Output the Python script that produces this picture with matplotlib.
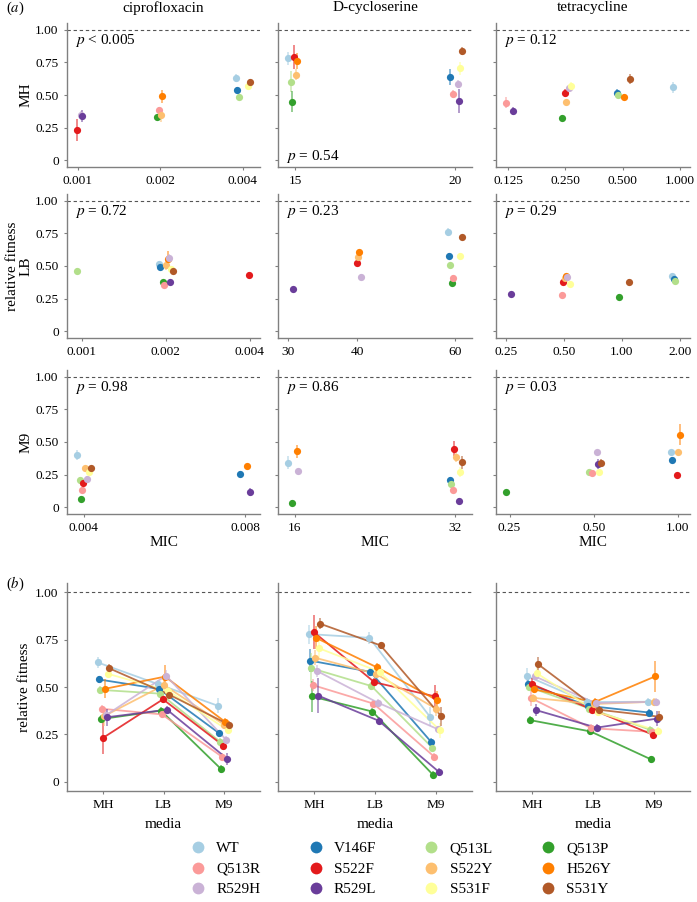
import numpy as np
import matplotlib.pyplot as plt
from matplotlib.lines import Line2D

plt.rcParams['font.family'] = 'Liberation Serif'
plt.rcParams['mathtext.fontset'] = 'stix'

strains = ['WT', 'V146F', 'Q513L', 'Q513P', 'Q513R', 'S522F',
           'S522Y', 'H526Y', 'R529H', 'R529L', 'S531F', 'S531Y']
colours = ['#a6cee3', '#1f78b4', '#b2df8a', '#33a02c', '#fb9a99', '#e31a1c',
           '#fdbf6f', '#ff7f00', '#cab2d6', '#6a3d9a', '#ffff99', '#b15928']
media = ['MH', 'LB', 'M9']
drugs = ['ciprofloxacin', 'D-cycloserine', 'tetracycline']

# ciprofloxacin (strain order as above)
cip_mh_mic = [0.004, 0.004, 0.004, 0.002, 0.002, 0.001, 0.002, 0.002, 0.001, 0.001, 0.004, 0.004]
cip_mh_fit = [0.63, 0.54, 0.485, 0.33, 0.385, 0.23, 0.345, 0.49, 0.35, 0.34, 0.57, 0.60]
cip_mh_err = [0.03, 0.02, 0.02, 0.02, 0.02, 0.085, 0.05, 0.05, 0.03, 0.045, 0.02, 0.02]
cip_lb_mic = [0.002, 0.002, 0.001, 0.002, 0.002, 0.004, 0.002, 0.002, 0.002, 0.002, 0.002, 0.002]
cip_lb_fit = [0.515, 0.49, 0.465, 0.375, 0.355, 0.435, 0.51, 0.555, 0.56, 0.38, 0.48, 0.46]
cip_lb_err = [0.02, 0.02, 0.02, 0.02, 0.02, 0.02, 0.04, 0.06, 0.03, 0.02, 0.02, 0.02]
cip_m9_mic = [0.004, 0.008, 0.004, 0.004, 0.004, 0.004, 0.004, 0.008, 0.004, 0.008, 0.004, 0.004]
cip_m9_fit = [0.40, 0.255, 0.21, 0.065, 0.13, 0.19, 0.30, 0.315, 0.22, 0.12, 0.27, 0.30]
cip_m9_err = [0.04, 0.02, 0.02, 0.02, 0.02, 0.02, 0.02, 0.02, 0.02, 0.03, 0.02, 0.02]

# D-cycloserine
dcs_mh_mic = [15, 20, 15, 15, 20, 15, 15, 15, 20, 20, 20, 20]
dcs_mh_fit = [0.78, 0.64, 0.60, 0.45, 0.51, 0.79, 0.655, 0.76, 0.585, 0.455, 0.705, 0.835]
dcs_mh_err = [0.05, 0.06, 0.08, 0.08, 0.03, 0.09, 0.04, 0.06, 0.03, 0.09, 0.05, 0.03]
dcs_lb_mic = [60, 60, 60, 60, 60, 40, 40, 40, 40, 30, 60, 60]
dcs_lb_fit = [0.76, 0.58, 0.505, 0.37, 0.412, 0.525, 0.57, 0.605, 0.418, 0.322, 0.58, 0.72]
dcs_lb_err = [0.03, 0.02, 0.02, 0.02, 0.02, 0.02, 0.02, 0.02, 0.02, 0.02, 0.02, 0.02]
dcs_m9_mic = [16, 32, 32, 16, 32, 32, 32, 16, 16, 32, 32, 32]
dcs_m9_fit = [0.342, 0.21, 0.18, 0.035, 0.132, 0.45, 0.385, 0.43, 0.276, 0.05, 0.27, 0.346]
dcs_m9_err = [0.05, 0.02, 0.02, 0.02, 0.02, 0.06, 0.04, 0.05, 0.02, 0.02, 0.04, 0.05]

# tetracycline
tet_mh_mic = [1.0, 0.5, 0.5, 0.25, 0.125, 0.25, 0.25, 0.5, 0.25, 0.125, 0.25, 0.5]
tet_mh_fit = [0.558, 0.516, 0.50, 0.325, 0.442, 0.515, 0.443, 0.488, 0.556, 0.378, 0.572, 0.621]
tet_mh_err = [0.04, 0.03, 0.02, 0.02, 0.04, 0.03, 0.02, 0.02, 0.02, 0.03, 0.03, 0.04]
tet_lb_mic = [2.0, 2.0, 2.0, 1.0, 0.5, 0.5, 0.5, 0.5, 0.5, 0.25, 0.5, 1.0]
tet_lb_fit = [0.42, 0.40, 0.386, 0.265, 0.282, 0.38, 0.41, 0.42, 0.415, 0.285, 0.366, 0.38]
tet_lb_err = [0.02, 0.02, 0.02, 0.02, 0.02, 0.02, 0.02, 0.02, 0.02, 0.02, 0.02, 0.02]
tet_m9_mic = [1.0, 1.0, 0.5, 0.25, 0.5, 1.0, 1.0, 1.0, 0.5, 0.5, 0.5, 0.5]
tet_m9_fit = [0.422, 0.365, 0.274, 0.117, 0.263, 0.247, 0.422, 0.556, 0.422, 0.333, 0.268, 0.343]
tet_m9_err = [0.02, 0.02, 0.02, 0.02, 0.02, 0.02, 0.02, 0.08, 0.02, 0.04, 0.02, 0.03]

cip_p = [r'$p$ < 0.005', r'$p$ = 0.72', r'$p$ = 0.98']
dcs_p = [r'$p$ = 0.54', r'$p$ = 0.23', r'$p$ = 0.86']
tet_p = [r'$p$ = 0.12', r'$p$ = 0.29', r'$p$ = 0.03']

panels = [
    [(cip_mh_mic, cip_mh_fit, cip_mh_err), (cip_lb_mic, cip_lb_fit, cip_lb_err), (cip_m9_mic, cip_m9_fit, cip_m9_err)],
    [(dcs_mh_mic, dcs_mh_fit, dcs_mh_err), (dcs_lb_mic, dcs_lb_fit, dcs_lb_err), (dcs_m9_mic, dcs_m9_fit, dcs_m9_err)],
    [(tet_mh_mic, tet_mh_fit, tet_mh_err), (tet_lb_mic, tet_lb_fit, tet_lb_err), (tet_m9_mic, tet_m9_fit, tet_m9_err)],
]
pvals = [cip_p, dcs_p, tet_p]

W, H = 697, 902
fig = plt.figure(figsize=(W / 100, H / 100), dpi=100)


def px_axes(left, top, width, height):
    return fig.add_axes([left / W, 1 - (top + height) / H, width / W, height / H])


def style(ax, ylabels):
    for s in ['top', 'right']:
        ax.spines[s].set_visible(False)
    for s in ['left', 'bottom']:
        ax.spines[s].set_color('#808080')
        ax.spines[s].set_linewidth(1.0)
    ax.tick_params(colors='#808080', labelcolor='black', length=2.5, width=0.8, labelsize=9.6)
    ax.set_ylim(-0.05, 1.05)
    ax.set_yticks([0, 0.25, 0.5, 0.75, 1.0])
    ax.set_yticklabels(['0', '0.25', '0.50', '0.75', '1.00'] if ylabels else [])
    ax.axhline(1, ls=(0, (3, 2.5)), color='#555555', lw=0.8, zorder=0)


col_left = [67, 278, 496]
col_width = [193, 194, 194]
row_top = [23, 194, 370]
row_h = 144
ms = 5.2

# (a) fitness against MIC
for c in range(3):
    for r in range(3):
        mic, fit, err = (np.array(v, dtype=float) for v in panels[c][r])
        ax = px_axes(col_left[c], row_top[r], col_width[c], row_h)
        style(ax, c == 0)
        ax.set_xscale('log', base=2)
        levels = np.unique(mic)
        lspan = np.log2(levels.max() / levels.min())
        offs = (np.arange(len(strains)) - 5.5) / 12 * 0.09 * lspan
        x = mic * 2 ** offs
        for i in range(len(strains)):
            ax.plot([x[i], x[i]], [fit[i] - err[i], fit[i] + err[i]], color=colours[i],
                    lw=1.2, alpha=0.6, solid_capstyle='butt', zorder=2)
            ax.plot(x[i], fit[i], 'o', color=colours[i], ms=ms, mec='none', zorder=3)
        lx = np.log2(np.concatenate([x, levels]))
        span = lx.max() - lx.min()
        ax.set_xlim(2 ** (lx.min() - 0.06 * span), 2 ** (lx.max() + 0.06 * span))
        ax.minorticks_off()
        dec = max(len(f'{v:g}'.split('.')[1]) if '.' in f'{v:g}' else 0 for v in levels)
        ax.set_xticks(levels)
        ax.set_xticklabels([f'{v:.{dec}f}' for v in levels])
        ptxt = pvals[c][r]
        if c == 1 and r == 0:
            ax.text(0.04, 0.07, ptxt, transform=ax.transAxes, fontsize=11, va='center')
        else:
            ax.text(0.04, 0.88, ptxt, transform=ax.transAxes, fontsize=11, va='center')
        if c == 0:
            lab = 'relative fitness\n' + media[r] if r == 1 else media[r]
            ax.set_ylabel(lab, fontsize=11, labelpad=2, linespacing=1.1)
        if r == 2:
            ax.set_xlabel('MIC', fontsize=11, labelpad=1)
        if r == 0:
            fig.text((col_left[c] + col_width[c] / 2) / W, 1 - 8 / H, drugs[c],
                     ha='center', va='center', fontsize=11)

fig.text(6 / W, 1 - 8 / H, r'($\mathit{a}$)', ha='left', va='center', fontsize=10.5)
fig.text(6 / W, 1 - 584 / H, r'($\mathit{b}$)', ha='left', va='center', fontsize=10.5)

# (b) fitness across media
offs_b = (np.arange(len(strains)) - 5.5) / 12 * 0.2
xm = np.arange(1, 4)
for c in range(3):
    ax = px_axes(col_left[c], 583, col_width[c], 208)
    style(ax, c == 0)
    fit = np.array([panels[c][m][1] for m in range(3)], dtype=float)
    err = np.array([panels[c][m][2] for m in range(3)], dtype=float)
    for i in range(len(strains)):
        xs = xm + offs_b[i]
        ax.plot(xs, fit[:, i], '-', color=colours[i], lw=1.3, alpha=0.85, zorder=2)
        ax.vlines(xs, fit[:, i] - err[:, i], fit[:, i] + err[:, i], color=colours[i],
                  lw=1.2, alpha=0.6, zorder=2)
        ax.plot(xs, fit[:, i], 'o', color=colours[i], ms=ms, mec='none', zorder=3)
    ax.set_xlim(0.4, 3.6)
    ax.set_xticks(xm)
    ax.set_xticklabels(media)
    ax.set_xlabel('media', fontsize=11, labelpad=5)
    if c == 0:
        ax.set_ylabel('relative fitness', fontsize=11, labelpad=3)

order = [0, 4, 8, 1, 5, 9, 2, 6, 10, 3, 7, 11]
handles = [Line2D([], [], ls='none', marker='o', ms=8.5, mec='none', color=colours[i]) for i in order]
fig.legend(handles, [strains[i] for i in order], ncol=4, loc='center',
           bbox_to_anchor=(400 / W, 1 - 869 / H), frameon=False, fontsize=11,
           handlelength=1.2, handletextpad=0.6, columnspacing=3.0, labelspacing=0.45)

fig.savefig('out.png', dpi=100)
